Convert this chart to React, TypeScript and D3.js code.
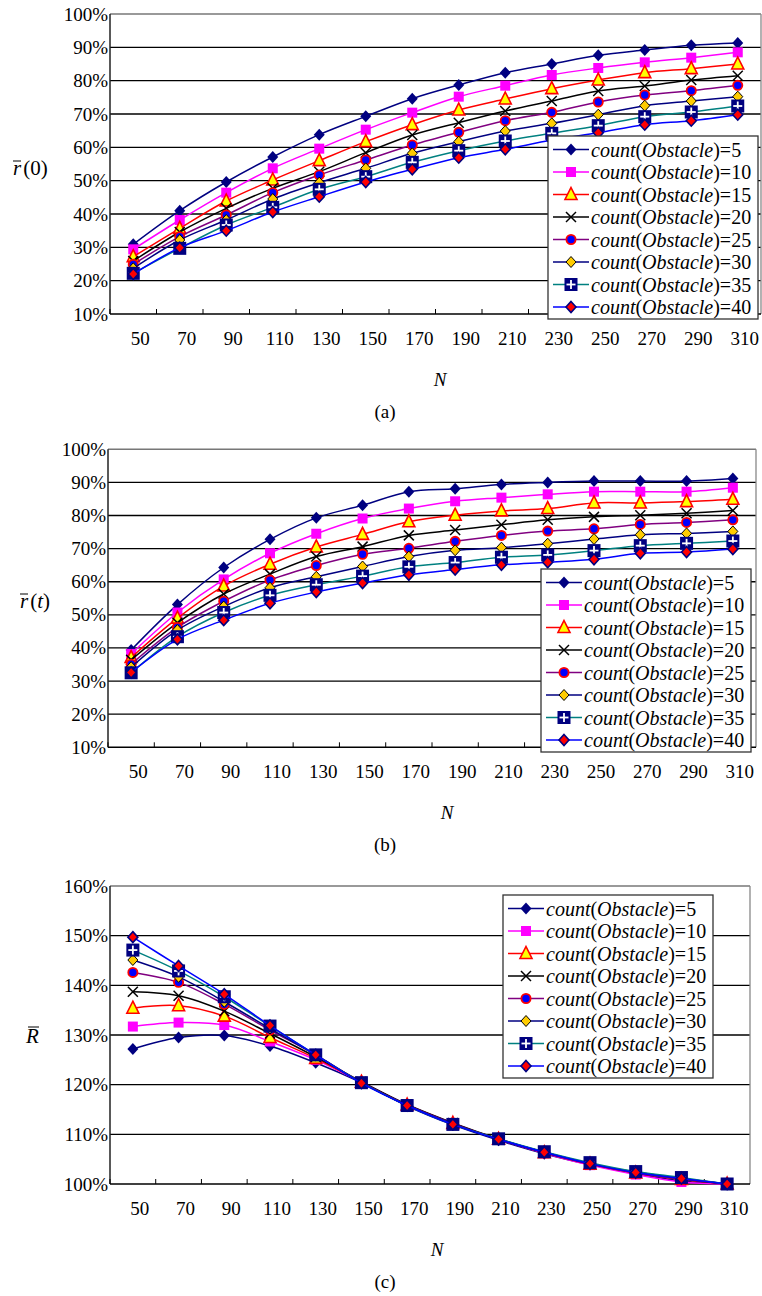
import React from "react";
import * as d3 from "d3";

// ---------- data ----------
const categories = [50, 70, 90, 110, 130, 150, 170, 190, 210, 230, 250, 270, 290, 310];
const obstacleCounts = [5, 10, 15, 20, 25, 30, 35, 40];

// panel (a): r(0) in %, one row per obstacle count
const rZero = [
  [30.9, 41.0, 49.6, 57.1, 63.8, 69.3, 74.6, 78.7, 82.4, 85.0, 87.6, 89.2, 90.6, 91.3],
  [29.4, 38.2, 46.4, 53.7, 59.6, 65.3, 70.4, 75.2, 78.5, 81.7, 83.8, 85.5, 86.9, 88.5],
  [27.2, 35.7, 43.9, 50.2, 56.0, 61.7, 66.8, 71.2, 74.5, 77.6, 80.2, 82.4, 83.6, 85.0],
  [25.9, 34.6, 41.7, 47.7, 52.7, 58.4, 63.7, 67.4, 70.9, 73.9, 76.9, 78.4, 80.2, 81.5],
  [24.9, 33.2, 39.7, 46.4, 51.7, 56.2, 60.7, 64.5, 68.0, 70.5, 73.6, 75.7, 77.0, 78.6],
  [23.7, 32.2, 38.2, 44.5, 49.4, 53.7, 58.2, 61.7, 64.9, 67.2, 69.8, 72.5, 73.9, 75.2],
  [22.2, 29.7, 36.7, 42.0, 47.4, 51.2, 55.5, 59.0, 61.9, 64.2, 66.5, 69.2, 70.6, 72.4],
  [22.0, 29.9, 35.0, 40.6, 45.2, 49.6, 53.4, 56.9, 59.4, 62.2, 64.4, 66.8, 68.0, 69.8],
];

// panel (b): r(t) in %
const rT = [
  [39.4, 53.1, 64.3, 72.8, 79.3, 83.1, 87.2, 88.1, 89.4, 90.0, 90.4, 90.4, 90.4, 91.2],
  [38.2, 50.7, 60.7, 68.6, 74.5, 79.1, 82.1, 84.3, 85.4, 86.4, 87.2, 87.2, 87.2, 88.4],
  [37.1, 49.0, 58.7, 65.3, 70.5, 74.3, 78.1, 80.1, 81.4, 82.1, 83.8, 83.8, 84.2, 84.9],
  [36.4, 47.6, 56.3, 62.3, 67.6, 70.6, 74.0, 75.6, 77.2, 78.7, 79.6, 80.1, 80.7, 81.5],
  [35.1, 46.2, 54.1, 60.5, 64.9, 68.3, 70.1, 72.2, 74.0, 75.3, 76.0, 77.3, 77.9, 78.7],
  [34.2, 45.4, 52.5, 58.2, 61.5, 64.6, 67.6, 69.5, 70.3, 71.5, 72.9, 74.2, 74.6, 75.2],
  [32.5, 43.4, 50.7, 55.9, 59.1, 61.7, 64.5, 65.8, 67.4, 68.1, 69.4, 70.9, 71.6, 72.3],
  [32.6, 42.6, 48.4, 53.5, 56.9, 59.6, 62.1, 63.7, 65.1, 65.9, 66.8, 68.6, 69.0, 69.9],
];

// panel (c): R in %
const rBig = [
  [127.2, 129.5, 129.9, 127.8, 124.4, 120.4, 115.7, 111.9, 108.8, 106.1, 103.9, 102.1, 100.6, 100.0],
  [131.7, 132.5, 132.0, 128.7, 125.0, 120.5, 115.9, 112.2, 109.0, 106.2, 103.8, 101.9, 100.4, 100.0],
  [135.4, 135.9, 133.8, 129.5, 125.3, 120.5, 115.9, 112.2, 109.0, 106.3, 104.0, 102.2, 100.9, 100.0],
  [138.7, 137.9, 134.8, 130.3, 125.6, 120.6, 116.0, 112.3, 109.1, 106.4, 104.1, 102.3, 101.0, 100.0],
  [142.6, 140.6, 136.2, 131.0, 126.0, 120.5, 115.9, 112.2, 109.0, 106.3, 104.0, 102.2, 101.0, 100.0],
  [145.1, 141.7, 136.7, 131.3, 126.0, 120.4, 115.8, 112.1, 109.0, 106.4, 104.1, 102.4, 101.1, 100.0],
  [147.1, 142.9, 137.7, 131.8, 126.0, 120.4, 115.8, 112.0, 109.1, 106.5, 104.3, 102.5, 101.3, 100.0],
  [149.7, 143.9, 138.2, 131.9, 126.0, 120.3, 115.8, 112.0, 109.0, 106.4, 104.1, 102.3, 101.1, 100.0],
];

const lineColors = ["#000080", "#FF00FF", "#FF0000", "#000000", "#800080", "#000080", "#008080", "#0000FF"];
const markerKinds = ["diamond", "square", "triangle", "cross", "circle", "goldDiamond", "plusSquare", "redDiamond"];

const FONT = "Liberation Serif";

function Marker({ kind, x, y }: { kind: string; x: number; y: number }) {
  switch (kind) {
    case "diamond":
      return <path d={`M${x},${y - 6}L${x + 5.5},${y}L${x},${y + 6}L${x - 5.5},${y}Z`} fill="#000080" />;
    case "square":
      return <rect x={x - 5} y={y - 5} width={10} height={10} fill="#FF00FF" />;
    case "triangle":
      return (
        <path d={`M${x},${y - 7}L${x + 6},${y + 5}L${x - 6},${y + 5}Z`} fill="#FFFF00" stroke="#FF0000" strokeWidth={1.6} />
      );
    case "cross":
      return (
        <g stroke="#000" strokeWidth={1.5}>
          <line x1={x - 5} y1={y - 5} x2={x + 5} y2={y + 5} />
          <line x1={x - 5} y1={y + 5} x2={x + 5} y2={y - 5} />
        </g>
      );
    case "circle":
      return <circle cx={x} cy={y} r={4.6} fill="#0000FF" stroke="#FF0000" strokeWidth={1.8} />;
    case "goldDiamond":
      return (
        <path d={`M${x},${y - 5.5}L${x + 5},${y}L${x},${y + 5.5}L${x - 5},${y}Z`} fill="#FFCC00" stroke="#000" strokeWidth={1} />
      );
    case "plusSquare":
      return (
        <g>
          <rect x={x - 6.5} y={y - 6.5} width={13} height={13} fill="#000080" />
          <line x1={x - 4.5} y1={y} x2={x + 4.5} y2={y} stroke="#fff" strokeWidth={1.8} />
          <line x1={x} y1={y - 4.5} x2={x} y2={y + 4.5} stroke="#fff" strokeWidth={1.8} />
        </g>
      );
    case "redDiamond":
      return (
        <path d={`M${x},${y - 5.5}L${x + 5},${y}L${x},${y + 5.5}L${x - 5},${y}Z`} fill="#FF0000" stroke="#000080" strokeWidth={1.6} />
      );
    default:
      return null;
  }
}

type PanelProps = {
  data: number[][];
  left: number;
  right: number;
  top: number;
  bottom: number;
  yMin: number;
  yMax: number;
  legend: { x: number; y: number; w: number; h: number };
  yLabel: React.ReactNode;
  nX: number;
  caption: string;
};

function Panel({ data, left, right, top, bottom, yMin, yMax, legend, yLabel, nX, caption }: PanelProps) {
  const x = d3.scaleBand<number>().domain(categories).range([left, right]).padding(0);
  const y = d3.scaleLinear().domain([yMin, yMax]).range([bottom, top]);
  const bw = x.bandwidth();
  const cx = (c: number) => (x(c) as number) + bw / 2;
  const yTicks = d3.range(yMin, yMax + 0.001, 10);
  const line = d3
    .line<number>()
    .x((_, i) => cx(categories[i]))
    .y((v) => y(v))
    .curve(d3.curveCatmullRom.alpha(0.5));

  return (
    <g>
      {yTicks.map((t) =>
        t === yMin ? null : (
          <line
            key={t}
            x1={left}
            x2={right}
            y1={y(t)}
            y2={y(t)}
            stroke={t === yMax ? "#777" : "#000"}
            strokeWidth={t === yMax ? 1.5 : 1.3}
          />
        )
      )}
      <line x1={right} x2={right} y1={top} y2={bottom} stroke="#888" strokeWidth={1.3} />
      <line x1={left} x2={left} y1={top} y2={bottom} stroke="#222" strokeWidth={1.5} />
      <line x1={left} x2={right} y1={bottom} y2={bottom} stroke="#000" strokeWidth={1.5} />
      {categories.map((c) => (
        <line key={c} x1={x(c) as number} x2={x(c) as number} y1={bottom} y2={bottom - 5} stroke="#000" strokeWidth={1} />
      ))}
      {yTicks.map((t) => (
        <text key={t} x={left - 2} y={y(t) + 6.5} textAnchor="end" fontSize={19} fontFamily={FONT} fill="#000">
          {t}%
        </text>
      ))}
      {categories.map((c) => (
        <text key={c} x={cx(c) + 7} y={bottom + 31} textAnchor="middle" fontSize={19} fontFamily={FONT} fill="#000">
          {c}
        </text>
      ))}
      {data.map((row, si) => (
        <g key={si}>
          <path d={line(row) || ""} fill="none" stroke={lineColors[si]} strokeWidth={1.5} />
          {row.map((v, i) => (
            <Marker key={i} kind={markerKinds[si]} x={cx(categories[i])} y={y(v)} />
          ))}
        </g>
      ))}
      <rect x={legend.x} y={legend.y} width={legend.w} height={legend.h} fill="#fff" stroke="#333" strokeWidth={1.3} />
      {obstacleCounts.map((n, i) => {
        const ly = legend.y + 13.5 + i * 22.5;
        return (
          <g key={n}>
            <line x1={legend.x + 5} x2={legend.x + 41} y1={ly} y2={ly} stroke={lineColors[i]} strokeWidth={1.5} />
            <Marker kind={markerKinds[i]} x={legend.x + 23} y={ly} />
            <text x={legend.x + 43} y={ly + 7} fontSize={20} fontFamily={FONT} fill="#000">
              <tspan fontStyle="italic">count</tspan>
              <tspan>(</tspan>
              <tspan fontStyle="italic">Obstacle</tspan>
              <tspan>)={n}</tspan>
            </text>
          </g>
        );
      })}
      {yLabel}
      <text x={nX} y={bottom + 72} textAnchor="middle" fontSize={19} fontFamily={FONT} fontStyle="italic" fill="#000">
        N
      </text>
      <text x={385} y={bottom + 104} textAnchor="middle" fontSize={19} fontFamily={FONT} fill="#000">
        {caption}
      </text>
    </g>
  );
}

export default function App() {
  return (
    <svg
      width={762}
      height={1296}
      style={{ position: "absolute", left: 0, top: 0, background: "#fff" }}
      xmlns="http://www.w3.org/2000/svg"
    >
      <rect x={0} y={0} width={762} height={1296} fill="#fff" />
      <Panel
        data={rZero}
        left={110}
        right={761}
        top={14}
        bottom={314}
        yMin={10}
        yMax={100}
        legend={{ x: 548, y: 136, w: 210, h: 183 }}
        nX={440}
        caption="(a)"
        yLabel={
          <g>
            <text x={13} y={175} fontSize={21} fontFamily={FONT} fill="#000">
              <tspan fontStyle="italic">r</tspan>
              <tspan dx={2}>(0)</tspan>
            </text>
            <line x1={13} x2={21} y1={161} y2={161} stroke="#000" strokeWidth={1} />
          </g>
        }
      />
      <Panel
        data={rT}
        left={108}
        right={756}
        top={449.3}
        bottom={747.3}
        yMin={10}
        yMax={100}
        legend={{ x: 541, y: 569, w: 210, h: 183 }}
        nX={447}
        caption="(b)"
        yLabel={
          <g>
            <text x={20} y={608} fontSize={21} fontFamily={FONT} fill="#000">
              <tspan fontStyle="italic">r</tspan>
              <tspan dx={2}>(</tspan>
              <tspan fontStyle="italic">t</tspan>
              <tspan>)</tspan>
            </text>
            <line x1={20} x2={28} y1={594} y2={594} stroke="#000" strokeWidth={1} />
          </g>
        }
      />
      <Panel
        data={rBig}
        left={110}
        right={750}
        top={886}
        bottom={1184}
        yMin={100}
        yMax={160}
        legend={{ x: 503, y: 895, w: 210, h: 183 }}
        nX={437}
        caption="(c)"
        yLabel={
          <g>
            <text x={26} y={1043} fontSize={21} fontFamily={FONT} fontStyle="italic" fill="#000">
              R
            </text>
            <line x1={28} x2={39} y1={1027} y2={1027} stroke="#000" strokeWidth={1} />
          </g>
        }
      />
    </svg>
  );
}
